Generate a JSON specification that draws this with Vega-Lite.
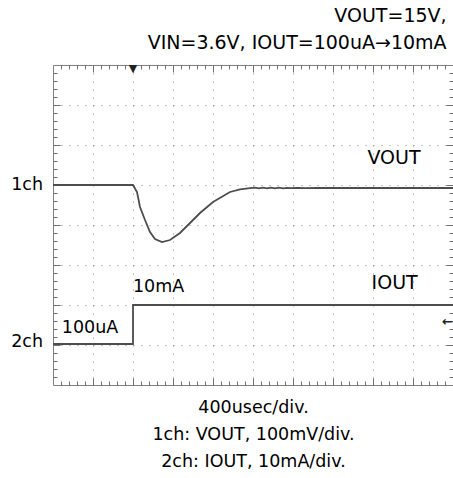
{
  "$schema": "https://vega.github.io/schema/vega-lite/v6.json",
  "width": 400,
  "height": 320,
  "autosize": {"type": "none"},
  "padding": {"left": 53, "top": 65, "right": 0, "bottom": 93},
  "background": "white",
  "config": {
    "view": {"stroke": "#808080", "strokeWidth": 1},
    "font": "DejaVu Sans",
    "axis": {"domain": false, "labels": false, "tickColor": "#707070", "tickWidth": 1, "gridColor": "#8c8c8c", "gridDash": [1, 7], "gridWidth": 1}
  },
  "title": {
    "text": ["VOUT=15V,", "VIN=3.6V, IOUT=100uA→10mA"],
    "anchor": "end",
    "font": "DejaVu Sans",
    "fontSize": 19,
    "fontWeight": "normal",
    "color": "#000000",
    "lineHeight": 27,
    "offset": 10,
    "dx": -10
  },
  "datasets": {
    "vout": [
      {"t": 0, "v": 5.0}, {"t": 2.0, "v": 5.0}, {"t": 2.1, "v": 4.825}, {"t": 2.175, "v": 4.45},
      {"t": 2.3, "v": 4.125}, {"t": 2.425, "v": 3.825}, {"t": 2.55, "v": 3.65}, {"t": 2.725, "v": 3.575},
      {"t": 2.925, "v": 3.625}, {"t": 3.175, "v": 3.8}, {"t": 3.425, "v": 4.05}, {"t": 3.675, "v": 4.3},
      {"t": 4.0, "v": 4.575}, {"t": 4.425, "v": 4.825}, {"t": 4.675, "v": 4.89}, {"t": 4.925, "v": 4.92},
      {"t": 5.05, "v": 4.935}, {"t": 5.15, "v": 4.915}, {"t": 5.25, "v": 4.935}, {"t": 5.35, "v": 4.915},
      {"t": 5.45, "v": 4.935}, {"t": 5.55, "v": 4.915}, {"t": 5.65, "v": 4.932}, {"t": 5.75, "v": 4.918},
      {"t": 5.85, "v": 4.93}, {"t": 5.95, "v": 4.92}, {"t": 6.1, "v": 4.93}, {"t": 6.3, "v": 4.92},
      {"t": 6.6, "v": 4.925}, {"t": 10, "v": 4.925}
    ],
    "iout": [
      {"t": 0, "v": 1.025}, {"t": 2.0, "v": 2.0}, {"t": 10, "v": 2.0}
    ],
    "bigLabels": [
      {"t": 8.525, "v": 5.675, "label": "VOUT"},
      {"t": 8.54, "v": 2.55, "label": "IOUT"}
    ],
    "smallLabels": [
      {"t": 2.64, "v": 2.45, "label": "10mA"},
      {"t": 0.925, "v": 1.425, "label": "100uA"}
    ],
    "chLabels": [
      {"t": -0.25, "v": 5.0, "label": "1ch"},
      {"t": -0.25, "v": 1.075, "label": "2ch"}
    ],
    "markers": [
      {"t": 2.0, "v": 7.91, "label": "▼"}
    ],
    "arrows": [
      {"t": 9.86, "v": 1.575, "label": "←"}
    ]
  },
  "layer": [
    {
      "data": {"name": "vout"},
      "mark": {"type": "line", "color": "#4d4d4d", "strokeWidth": 1.8},
      "encoding": {
        "x": {"field": "t", "type": "quantitative", "scale": {"domain": [0, 10], "nice": false, "zero": false},
          "axis": {"orient": "bottom", "title": null, "grid": false, "tickSize": -4,
            "values": [0.2,0.4,0.6,0.8,1,1.2,1.4,1.6,1.8,2,2.2,2.4,2.6,2.8,3,3.2,3.4,3.6,3.8,4,4.2,4.4,4.6,4.8,5,5.2,5.4,5.6,5.8,6,6.2,6.4,6.6,6.8,7,7.2,7.4,7.6,7.8,8,8.2,8.4,8.6,8.8,9,9.2,9.4,9.6,9.8]}},
        "y": {"field": "v", "type": "quantitative", "scale": {"domain": [0, 8], "nice": false, "zero": false},
          "axis": {"orient": "left", "title": null, "grid": false, "tickSize": -4,
            "values": [0.2,0.4,0.6,0.8,1,1.2,1.4,1.6,1.8,2,2.2,2.4,2.6,2.8,3,3.2,3.4,3.6,3.8,4,4.2,4.4,4.6,4.8,5,5.2,5.4,5.6,5.8,6,6.2,6.4,6.6,6.8,7,7.2,7.4,7.6,7.8]}}
      }
    },
    {
      "data": {"name": "iout"},
      "mark": {"type": "line", "color": "#4d4d4d", "strokeWidth": 1.8, "interpolate": "step-after"},
      "encoding": {
        "x": {"field": "t", "type": "quantitative",
          "axis": {"orient": "bottom", "grid": true, "tickSize": -7, "values": [1,2,3,4,5,6,7,8,9],
            "title": ["400usec/div.", "1ch: VOUT, 100mV/div.", "2ch: IOUT, 10mA/div."],
            "titleFont": "DejaVu Sans", "titleFontSize": 17.5, "titleFontWeight": "normal", "titleColor": "#000000",
            "titleLineHeight": 27, "titlePadding": 13}},
        "y": {"field": "v", "type": "quantitative",
          "axis": {"orient": "left", "title": null, "grid": true, "tickSize": -7, "values": [1,2,3,4,5,6,7]}}
      }
    },
    {
      "data": {"name": "bigLabels"},
      "mark": {"type": "text", "fontSize": 19, "color": "#000000", "align": "center", "baseline": "middle"},
      "encoding": {
        "x": {"field": "t", "type": "quantitative",
          "axis": {"orient": "top", "title": null, "grid": false, "tickSize": -4,
            "values": [0.2,0.4,0.6,0.8,1,1.2,1.4,1.6,1.8,2,2.2,2.4,2.6,2.8,3,3.2,3.4,3.6,3.8,4,4.2,4.4,4.6,4.8,5,5.2,5.4,5.6,5.8,6,6.2,6.4,6.6,6.8,7,7.2,7.4,7.6,7.8,8,8.2,8.4,8.6,8.8,9,9.2,9.4,9.6,9.8]}},
        "y": {"field": "v", "type": "quantitative",
          "axis": {"orient": "right", "title": null, "grid": false, "tickSize": -4,
            "values": [0.2,0.4,0.6,0.8,1,1.2,1.4,1.6,1.8,2,2.2,2.4,2.6,2.8,3,3.2,3.4,3.6,3.8,4,4.2,4.4,4.6,4.8,5,5.2,5.4,5.6,5.8,6,6.2,6.4,6.6,6.8,7,7.2,7.4,7.6,7.8]}},
        "text": {"field": "label"}
      }
    },
    {
      "data": {"name": "smallLabels"},
      "mark": {"type": "text", "fontSize": 17.5, "color": "#000000", "align": "center", "baseline": "middle"},
      "encoding": {
        "x": {"field": "t", "type": "quantitative",
          "axis": {"orient": "top", "title": null, "grid": false, "tickSize": -7, "values": [1,2,3,4,5,6,7,8,9]}},
        "y": {"field": "v", "type": "quantitative",
          "axis": {"orient": "right", "title": null, "grid": false, "tickSize": -7, "values": [1,2,3,4,5,6,7]}},
        "text": {"field": "label"}
      }
    },
    {
      "data": {"name": "chLabels"},
      "mark": {"type": "text", "fontSize": 17.5, "color": "#000000", "align": "right", "baseline": "middle"},
      "encoding": {
        "x": {"field": "t", "type": "quantitative", "axis": null},
        "y": {"field": "v", "type": "quantitative", "axis": null},
        "text": {"field": "label"}
      }
    },
    {
      "data": {"name": "markers"},
      "mark": {"type": "text", "fontSize": 11, "color": "#222222", "align": "center", "baseline": "middle"},
      "encoding": {
        "x": {"field": "t", "type": "quantitative", "axis": null},
        "y": {"field": "v", "type": "quantitative", "axis": null},
        "text": {"field": "label"}
      }
    },
    {
      "data": {"name": "arrows"},
      "mark": {"type": "text", "fontSize": 13, "fontWeight": "bold", "color": "#222222", "align": "center", "baseline": "middle"},
      "encoding": {
        "x": {"field": "t", "type": "quantitative", "axis": null},
        "y": {"field": "v", "type": "quantitative", "axis": null},
        "text": {"field": "label"}
      }
    }
  ],
  "resolve": {"axis": {"x": "independent", "y": "independent"}}
}
